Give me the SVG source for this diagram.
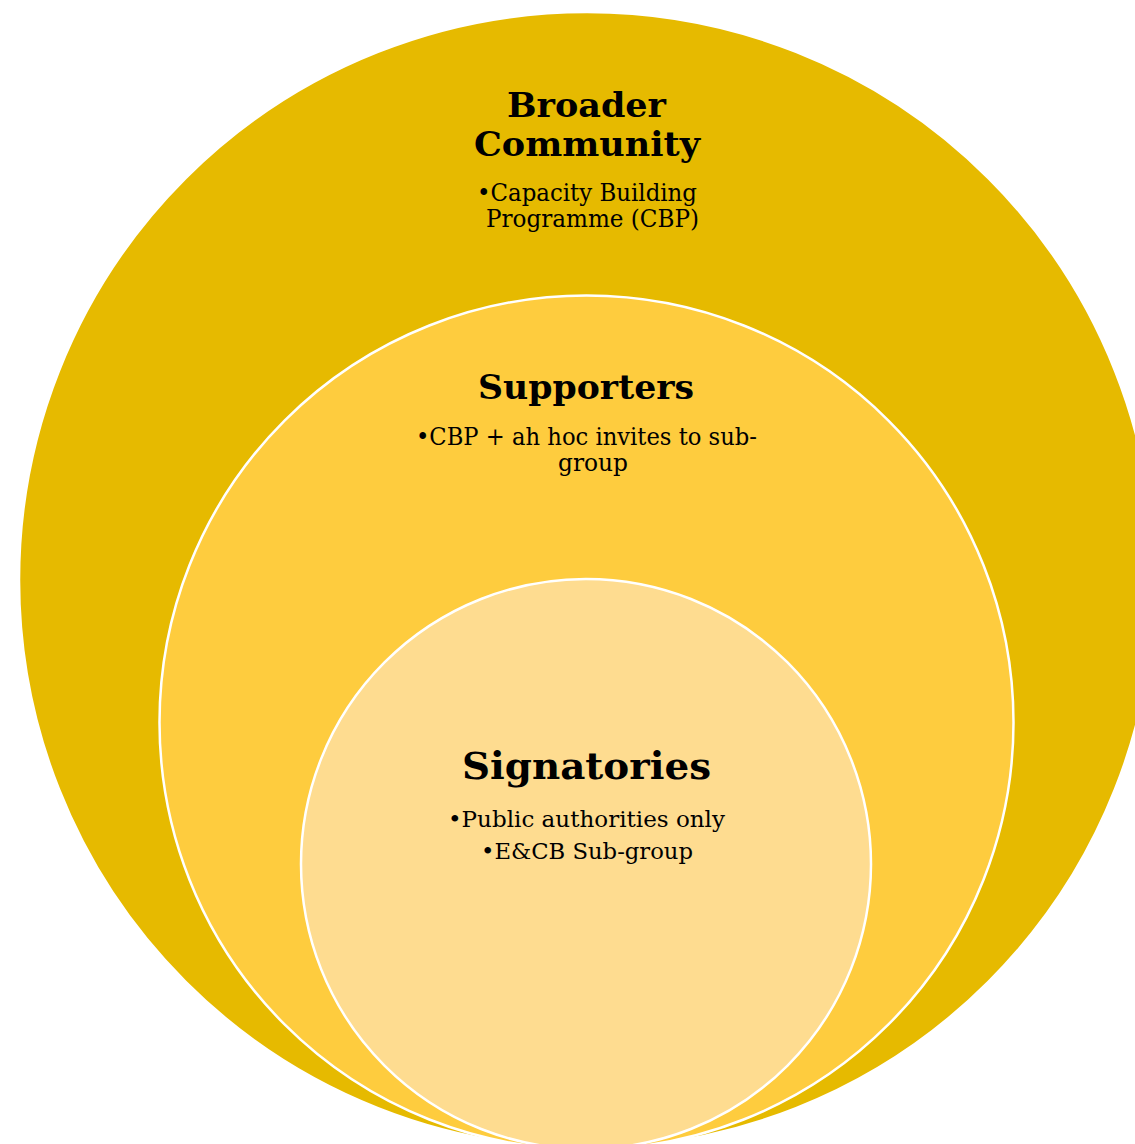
<svg xmlns="http://www.w3.org/2000/svg" width="1135" height="1144" viewBox="0 0 1135 1144">
<style>
.ring{stroke:#FFFFFF;stroke-width:2.5}
.head{font-family:"DejaVu Serif","Liberation Serif",serif;font-weight:bold;fill:#000000}
.body{font-family:"DejaVu Serif","Liberation Serif",serif;fill:#000000}
</style>
<rect x="0" y="0" width="1135" height="1144" fill="#FFFFFF"/>
<g id="broader-community">
<circle class="ring" cx="587" cy="580" r="568" fill="#E6BA00"/>
<text class="head" x="507" y="117" font-size="34" textLength="159" lengthAdjust="spacingAndGlyphs">Broader</text>
<text class="head" x="474" y="156" font-size="34" textLength="226" lengthAdjust="spacingAndGlyphs">Community</text>
<text class="body" x="477" y="201" font-size="24" textLength="220" lengthAdjust="spacingAndGlyphs">•Capacity Building</text>
<text class="body" x="486" y="227" font-size="24" textLength="213" lengthAdjust="spacingAndGlyphs">Programme (CBP)</text>
</g>
<g id="supporters">
<circle class="ring" cx="586.5" cy="722.5" r="427" fill="#FECC3E"/>
<text class="head" x="478" y="399" font-size="34" textLength="216" lengthAdjust="spacingAndGlyphs">Supporters</text>
<text class="body" x="416" y="445" font-size="24" textLength="341" lengthAdjust="spacingAndGlyphs">•CBP + ah hoc invites to sub-</text>
<text class="body" x="558" y="471" font-size="24" textLength="70" lengthAdjust="spacingAndGlyphs">group</text>
</g>
<g id="signatories">
<circle class="ring" cx="586" cy="864" r="285" fill="#FEDC90"/>
<text class="head" x="462" y="779" font-size="38" textLength="249" lengthAdjust="spacingAndGlyphs">Signatories</text>
<text class="body" x="448" y="827" font-size="23" textLength="277" lengthAdjust="spacingAndGlyphs">•Public authorities only</text>
<text class="body" x="481" y="859" font-size="23" textLength="212" lengthAdjust="spacingAndGlyphs">•E&amp;CB Sub-group</text>
</g>
<g id="connectors"/>
</svg>
